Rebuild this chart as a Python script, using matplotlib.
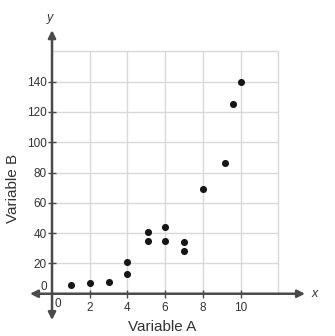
import matplotlib
matplotlib.use("Agg")
import matplotlib.pyplot as plt

# Data
var_a = [1, 2, 3, 4, 4, 5.1, 5.1, 6, 6, 7, 7, 8, 9.2, 9.6, 10]
var_b = [6, 7, 8, 13, 21, 41, 34.5, 44, 34.5, 34, 28.5, 69, 86, 125, 139.5]
x_ticks = [2, 4, 6, 8, 10]
y_ticks = [20, 40, 60, 80, 100, 120, 140]
x_grid = [2, 4, 6, 8, 10, 12]
y_grid = [20, 40, 60, 80, 100, 120, 140, 160]
x_max, y_max = 12, 160

plt.rcParams['font.family'] = ['Liberation Sans', 'DejaVu Sans']
text_color = '#333333'

fig = plt.figure(figsize=(3.35, 3.36), dpi=100)
ax = fig.add_axes([0, 0, 1, 1])
ax.set_xlim(-2.759, 15.01)
ax.set_ylim(-27.9, 193.9)
ax.set_facecolor('white')

# grid
ax.vlines(x_grid, 0, y_max, color='#d9d9d9', lw=1, zorder=1)
ax.hlines(y_grid, 0, x_max, color='#d9d9d9', lw=1, zorder=1)

# axes arrows
axis_color = '#4a4a4a'
ax.annotate('', xy=(13.42, 0), xytext=(-1.17, 0),
            arrowprops=dict(arrowstyle='<|-|>', color=axis_color, lw=1.8,
                            mutation_scale=11, shrinkA=0, shrinkB=0), zorder=3)
ax.annotate('', xy=(0, 174), xytext=(0, -17.4),
            arrowprops=dict(arrowstyle='<|-|>', color=axis_color, lw=1.8,
                            mutation_scale=11, shrinkA=0, shrinkB=0), zorder=3)

# spines hidden, ticks at zero
for s in ax.spines.values():
    s.set_visible(False)
ax.spines['left'].set_position(('data', 0))
ax.spines['bottom'].set_position(('data', 0))
ax.set_xticks(x_ticks)
ax.set_yticks(y_ticks)
ax.set_xticklabels([str(v) for v in x_ticks])
ax.set_yticklabels([str(v) for v in y_ticks])
ax.tick_params(axis='x', direction='inout', length=6, width=1, color=axis_color,
               labelsize=8.5, labelcolor=text_color, pad=3)
ax.tick_params(axis='y', direction='inout', length=6, width=1, color=axis_color,
               labelsize=8.5, labelcolor=text_color, pad=1)

# zero labels
ax.text(0.32, -6.8, '0', fontsize=8.5, color=text_color, ha='center', va='center')
ax.text(-0.42, 4.6, '0', fontsize=8.5, color=text_color, ha='center', va='center')

# points
ax.scatter(var_a, var_b, s=26, color='#161616', zorder=4, linewidths=0)

# labels
ax.text(13.95, 0, 'x', fontsize=9, style='italic', color=text_color, ha='center', va='center')
ax.text(-0.1, 182, 'y', fontsize=9, style='italic', color=text_color, ha='center', va='center')
ax.text(5.84, -22, 'Variable A', fontsize=11, color=text_color, ha='center', va='center')
ax.text(-2.07, 69.8, 'Variable B', fontsize=11, color=text_color, ha='center', va='center',
        rotation=90)

fig.savefig('out.png', dpi=100)
